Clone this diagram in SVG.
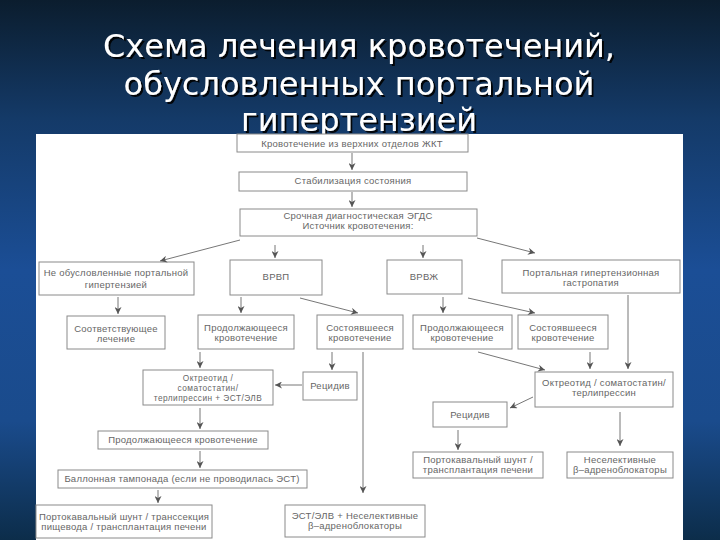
<svg xmlns="http://www.w3.org/2000/svg" width="720" height="540" viewBox="0 0 720 540">
<defs>
<linearGradient id="bg" x1="0" y1="0" x2="0" y2="1">
<stop offset="0" stop-color="#0b1d2e"/>
<stop offset="0.22" stop-color="#143a68"/>
<stop offset="0.5" stop-color="#1b4e96"/>
<stop offset="0.78" stop-color="#1a4b8c"/>
<stop offset="1" stop-color="#0c2d4a"/>
</linearGradient>
<filter id="sh" x="-5%" y="-20%" width="110%" height="150%">
<feDropShadow dx="2" dy="2" stdDeviation="0.6" flood-color="#000" flood-opacity="0.9"/>
</filter>
<marker id="ah" viewBox="0 0 10 10" refX="10" refY="5" markerWidth="7" markerHeight="7" markerUnits="userSpaceOnUse" orient="auto">
<path d="M0,0 L10,5 L0,10 L3,5 Z" fill="#555"/>
</marker>
<style>
.t{font-family:"DejaVu Sans",sans-serif;font-size:32px;fill:#fff;text-anchor:middle}
.b rect{fill:#fff;stroke:#8a8a8a;stroke-width:1}
.b text{font-family:"Liberation Sans",Arial,sans-serif;font-size:9.5px;letter-spacing:0.25px;fill:#666;text-anchor:middle}
.b text.s{font-size:8.3px;letter-spacing:0.45px}
#connectors line{stroke:#777;stroke-width:1;marker-end:url(#ah)}
</style>
</defs>
<rect width="720" height="540" fill="url(#bg)"/>
<g id="title" filter="url(#sh)">
<text class="t" x="359" y="57">Схема лечения кровотечений,</text>
<text class="t" x="359" y="94.5">обусловленных портальной</text>
<text class="t" x="359" y="130.5">гипертензией</text>
</g>
<rect x="36" y="134" width="647" height="406" fill="#fff"/>
<g id="n1" class="b"><rect x="237" y="134" width="231" height="18"/><text x="352" y="147">Кровотечение из верхних отделов ЖКТ</text></g>
<g id="n2" class="b"><rect x="239" y="172" width="228" height="19"/><text x="353" y="184">Стабилизация состояния</text></g>
<g id="n3" class="b"><rect x="240" y="209" width="237" height="27"/><text x="358" y="219">Срочная диагностическая ЭГДС</text><text x="358" y="229">Источник кровотечения:</text></g>
<g id="n4" class="b"><rect x="39" y="262" width="155" height="33"/><text x="116" y="276">Не обусловленные портальной</text><text x="116" y="288">гипертензией</text></g>
<g id="n5" class="b"><rect x="67" y="316" width="98" height="33"/><text x="116" y="332">Соответствующее</text><text x="116" y="342">лечение</text></g>
<g id="n6" class="b"><rect x="230" y="260" width="92" height="35"/><text x="276" y="280">ВРВП</text></g>
<g id="n7" class="b"><rect x="198" y="315" width="96" height="34"/><text x="246" y="331">Продолжающееся</text><text x="246" y="341">кровотечение</text></g>
<g id="n8" class="b"><rect x="317" y="315" width="86" height="34"/><text x="360" y="331">Состоявшееся</text><text x="360" y="341">кровотечение</text></g>
<g id="n9" class="b"><rect x="387" y="260" width="75" height="34"/><text x="424" y="280">ВРВЖ</text></g>
<g id="n10" class="b"><rect x="502" y="260" width="178" height="33"/><text x="591" y="276">Портальная гипертензионная</text><text x="591" y="286">гастропатия</text></g>
<g id="n11" class="b"><rect x="413" y="315" width="99" height="34"/><text x="462" y="331">Продолжающееся</text><text x="462" y="341">кровотечение</text></g>
<g id="n12" class="b"><rect x="518" y="315" width="90" height="34"/><text x="563" y="331">Состоявшееся</text><text x="563" y="341">кровотечение</text></g>
<g id="n13" class="b"><rect x="143" y="370" width="130" height="35"/><text class="s" x="208" y="380.5">Октреотид /</text><text class="s" x="208" y="390.5">соматостатин/</text><text class="s" x="208" y="400.5">терлипрессин + ЭСТ/ЭЛВ</text></g>
<g id="n14" class="b"><rect x="303" y="372" width="54" height="28"/><text x="330" y="389">Рецидив</text></g>
<g id="n15" class="b"><rect x="535" y="372" width="138" height="35"/><text x="604" y="386">Октреотид / соматостатин/</text><text x="604" y="396">терлипрессин</text></g>
<g id="n16" class="b"><rect x="433" y="402" width="74" height="25"/><text x="470" y="418">Рецидив</text></g>
<g id="n17" class="b"><rect x="98" y="431" width="170" height="18"/><text x="183" y="443">Продолжающееся кровотечение</text></g>
<g id="n18" class="b"><rect x="58" y="470" width="249" height="18"/><text x="182" y="482">Баллонная тампонада (если не проводилась ЭСТ)</text></g>
<g id="n19" class="b"><rect x="36" y="505" width="176" height="33"/><text x="124" y="520">Портокавальный шунт / транссекция</text><text x="124" y="530">пищевода / трансплантация печени</text></g>
<g id="n20" class="b"><rect x="285" y="505" width="140" height="32"/><text x="355" y="519">ЭСТ/ЭЛВ + Неселективные</text><text x="355" y="529">β–адреноблокаторы</text></g>
<g id="n21" class="b"><rect x="413" y="452" width="130" height="26"/><text x="478" y="463">Портокавальный шунт /</text><text x="478" y="473">трансплантация печени</text></g>
<g id="n22" class="b"><rect x="567" y="452" width="106" height="26"/><text x="620" y="463">Неселективные</text><text x="620" y="473">β–адреноблокаторы</text></g>
<g id="connectors">
<line x1="352" y1="153" x2="352" y2="170"/>
<line x1="352" y1="192" x2="352" y2="207"/>
<line x1="240" y1="240" x2="160" y2="261"/>
<line x1="275" y1="245" x2="275" y2="258"/>
<line x1="423" y1="245" x2="423" y2="258"/>
<line x1="477" y1="238" x2="535" y2="253"/>
<line x1="118" y1="297" x2="118" y2="314"/>
<line x1="241" y1="297" x2="241" y2="313"/>
<line x1="300" y1="298" x2="358" y2="313"/>
<line x1="443" y1="297" x2="443" y2="313"/>
<line x1="468" y1="298" x2="535" y2="313"/>
<line x1="200" y1="352" x2="200" y2="368"/>
<line x1="332" y1="352" x2="332" y2="370"/>
<line x1="363" y1="352" x2="363" y2="493"/>
<line x1="302" y1="385" x2="275" y2="385"/>
<line x1="200" y1="408" x2="200" y2="429"/>
<line x1="200" y1="451" x2="200" y2="468"/>
<line x1="158" y1="490" x2="158" y2="503"/>
<line x1="478" y1="352" x2="545" y2="370"/>
<line x1="590" y1="352" x2="590" y2="369"/>
<line x1="628" y1="295" x2="628" y2="369"/>
<line x1="533" y1="397" x2="510" y2="408"/>
<line x1="458" y1="430" x2="458" y2="450"/>
<line x1="620" y1="412" x2="620" y2="446"/>
</g>
</svg>
